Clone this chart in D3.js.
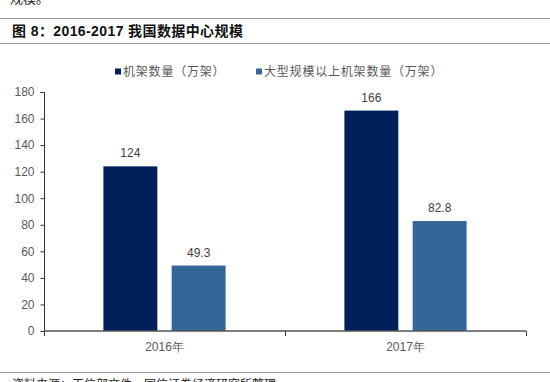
<!DOCTYPE html>
<html>
<head>
<meta charset="utf-8">
<script src="https://cdn.jsdelivr.net/npm/d3@7"></script>
<style>
  body { margin: 0; background: #fff; }
  svg { display: block; font-family: "Liberation Sans", Arial, "Noto Sans CJK SC", sans-serif; }
</style>
</head>
<body>
<div id="chart"></div>
<script>
// datos
const categories = ["2016年", "2017年"];
const seriesNames = ["机架数量（万架）", "大型规模以上机架数量（万架）"];
const racks = [124, 166];
const largeRacks = [49.3, 82.8];
const yTicks = [0, 20, 40, 60, 80, 100, 120, 140, 160, 180];

const colors = ["#001f5b", "#336797"];
const W = 550, H = 382;

const rows = categories.map((c, i) => ({cat: c, vals: [racks[i], largeRacks[i]]}));

const svg = d3.select("#chart").append("svg")
  .attr("width", W)
  .attr("height", H);

// texto de arriba cortado
svg.append("text")
  .attr("x", 10).attr("y", 3)
  .style("font-family", "'Noto Sans CJK SC', sans-serif")
  .style("font-size", "13px")
  .attr("fill", "#222")
  .text("规模。");

// lineas del titulo
svg.append("line").attr("x1", 0).attr("x2", W).attr("y1", 18.5).attr("y2", 18.5)
  .attr("stroke", "#9a9a9a").attr("stroke-width", 1);
svg.append("line").attr("x1", 0).attr("x2", W).attr("y1", 43.5).attr("y2", 43.5)
  .attr("stroke", "#9a9a9a").attr("stroke-width", 1);

svg.append("text")
  .attr("x", 12).attr("y", 36)
  .style("font-size", "14px")
  .style("font-weight", "bold")
  .style("letter-spacing", "0.4px")
  .attr("fill", "#111")
  .text("图 8：2016-2017 我国数据中心规模");

// escalas
const x = d3.scaleBand().domain(categories).range([44, 526]).padding(0);
const xs = d3.scaleBand().domain([0, 1]).range([0, x.bandwidth()])
  .paddingInner(0.21).paddingOuter(0.87);
const y = d3.scaleLinear().domain([0, 180]).range([331, 92]);

// eje y
const yAxis = svg.append("g")
  .attr("transform", "translate(44.5,0)")
  .call(d3.axisLeft(y).tickValues(yTicks).tickSize(4).tickPadding(6));
yAxis.select(".domain").attr("stroke", "#333").attr("d", "M-4,92.5H0V331");
yAxis.selectAll(".tick line").attr("stroke", "#333");
yAxis.selectAll(".tick text")
  .attr("fill", "#595959")
  .style("font-size", "12px")
  .style("font-family", "'Liberation Sans', Arial, sans-serif");

// barras
const groups = svg.selectAll("g.grp")
  .data(rows)
  .join("g")
  .attr("class", "grp")
  .attr("transform", d => `translate(${x(d.cat)},0)`);

groups.selectAll("rect")
  .data(d => d.vals)
  .join("rect")
  .attr("x", (v, i) => xs(i))
  .attr("width", xs.bandwidth())
  .attr("y", v => y(v))
  .attr("height", v => y(0) - y(v))
  .attr("fill", (v, i) => colors[i]);

groups.selectAll("text.lbl")
  .data(d => d.vals)
  .join("text")
  .attr("class", "lbl")
  .attr("x", (v, i) => xs(i) + xs.bandwidth() / 2)
  .attr("y", v => y(v) - 9)
  .attr("text-anchor", "middle")
  .attr("fill", "#404040")
  .style("font-size", "12px")
  .text(v => v);

// eje x
const xAxis = svg.append("g")
  .attr("transform", "translate(0,331)")
  .call(d3.axisBottom(x).tickSize(0).tickPadding(11));
xAxis.select(".domain").remove();
xAxis.selectAll(".tick text")
  .attr("fill", "#595959")
  .style("font-size", "12px");
svg.append("line")
  .attr("x1", 44).attr("x2", 526).attr("y1", 331).attr("y2", 331)
  .attr("stroke", "#555").attr("stroke-width", 1.5);
const xEdges = [x.range()[0], x(categories[1]), x.range()[1]];
svg.selectAll("line.xt")
  .data(xEdges)
  .join("line")
  .attr("class", "xt")
  .attr("x1", d => d + 0.5).attr("x2", d => d + 0.5)
  .attr("y1", 331).attr("y2", 336)
  .attr("stroke", "#333");

// leyenda
const legX = [115, 256];
const leg = svg.selectAll("g.leg")
  .data(seriesNames)
  .join("g")
  .attr("class", "leg")
  .attr("transform", (d, i) => `translate(${legX[i]},72)`);
leg.append("rect")
  .attr("x", 0).attr("y", -3.5).attr("width", 6).attr("height", 6)
  .attr("fill", (d, i) => colors[i]);
leg.append("text")
  .attr("x", 8).attr("y", 4)
  .attr("fill", "#595959")
  .style("font-size", "12px")
  .style("letter-spacing", "0.8px")
  .style("font-family", "'Noto Sans CJK SC', sans-serif")
  .text(d => d);

// fuente
svg.append("line").attr("x1", 0).attr("x2", W).attr("y1", 372.5).attr("y2", 372.5)
  .attr("stroke", "#9a9a9a").attr("stroke-width", 1);
svg.append("text")
  .attr("x", 12).attr("y", 389)
  .style("font-family", "'Noto Sans CJK SC', sans-serif")
  .style("font-size", "12px")
  .attr("fill", "#222")
  .text("资料来源：工信部文件，国信证券经济研究所整理");
</script>
</body>
</html>
